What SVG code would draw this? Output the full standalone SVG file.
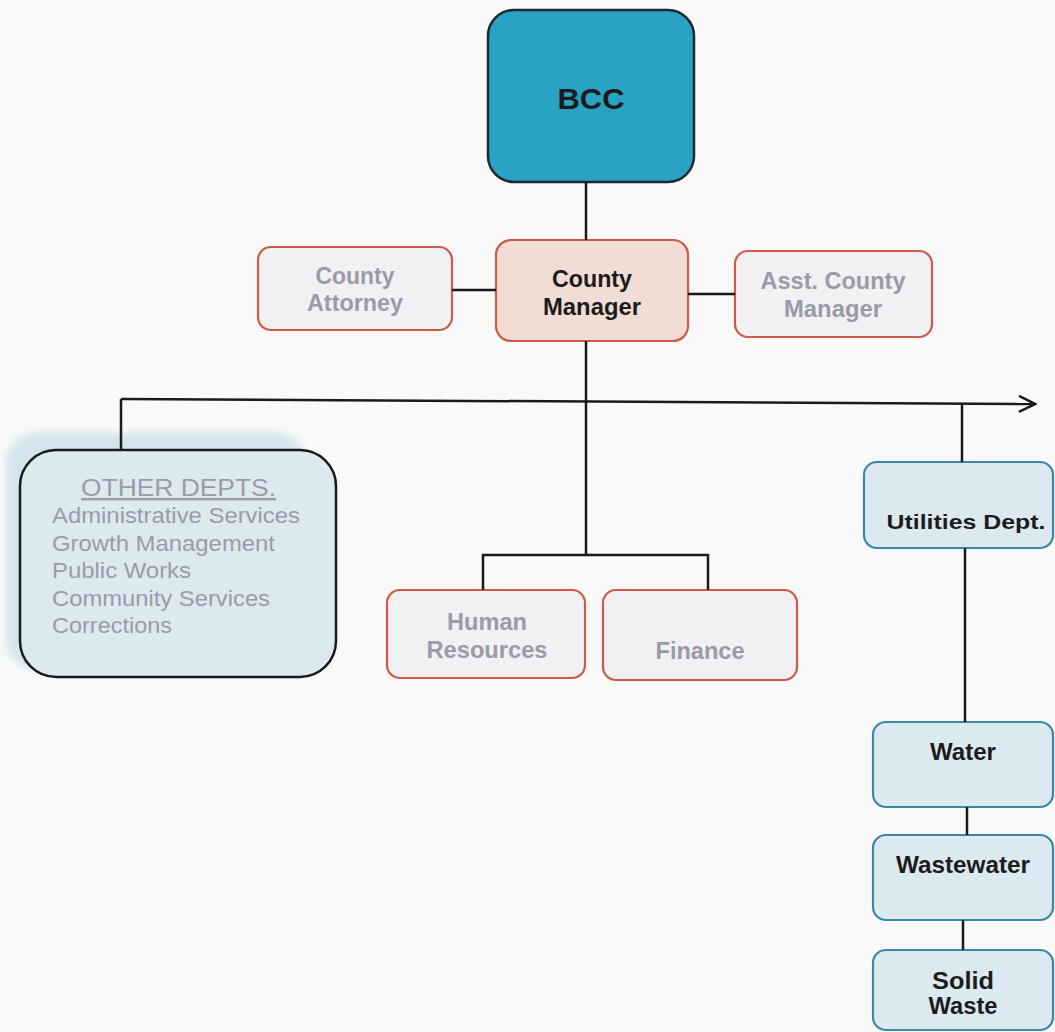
<svg xmlns="http://www.w3.org/2000/svg" width="1055" height="1032" viewBox="0 0 1055 1032">
<style>
.ln{stroke:#1a1a1a;stroke-width:2.5;fill:none}
.red{fill:#f1f0f2;stroke:#d0594a;stroke-width:2.2}
.blue{fill:#dde9f0;stroke:#3a88a8;stroke-width:2.2}
.t{font-family:"Liberation Sans",Arial,sans-serif;font-weight:bold;text-anchor:middle;font-size:23px}
.g{fill:#9a9aaa}
.k{fill:#1c1c1c}
.o{font-family:"Liberation Sans",Arial,sans-serif;font-size:22.5px;fill:#9a9aaa}
</style>
<defs>
<marker id="arr" markerWidth="20" markerHeight="20" refX="18" refY="10" orient="auto" markerUnits="userSpaceOnUse">
<polyline points="2,2 18,10 2,18" fill="none" stroke="#1a1a1a" stroke-width="2.5"/>
</marker>
<filter id="blur" x="-10%" y="-10%" width="120%" height="120%"><feGaussianBlur stdDeviation="4"/></filter>
</defs>
<rect width="1055" height="1032" fill="#f9f9f9"/>
<g id="bcc">
<rect x="488" y="10" width="206" height="172" rx="26" fill="#2aa2c3" stroke="#1c2a30" stroke-width="2.5"/>
<text class="t k" x="591" y="109" style="font-size:30px" textLength="67" lengthAdjust="spacingAndGlyphs">BCC</text>
</g>
<g id="county-manager">
<rect x="496" y="240" width="192" height="101" rx="15" fill="#f2dcd6" stroke="#d0594a" stroke-width="2.2"/>
<text class="t k" x="592" y="287" textLength="80" lengthAdjust="spacingAndGlyphs">County</text>
<text class="t k" x="592" y="315" textLength="98" lengthAdjust="spacingAndGlyphs">Manager</text>
</g>
<g id="county-attorney">
<rect class="red" x="258" y="247" width="194" height="83" rx="13"/>
<text class="t g" x="355" y="284" textLength="79" lengthAdjust="spacingAndGlyphs">County</text>
<text class="t g" x="355" y="311" textLength="96" lengthAdjust="spacingAndGlyphs">Attorney</text>
</g>
<g id="asst-county-manager">
<rect class="red" x="735" y="251" width="197" height="86" rx="13"/>
<text class="t g" x="833" y="289" textLength="145" lengthAdjust="spacingAndGlyphs">Asst. County</text>
<text class="t g" x="833" y="317" textLength="98" lengthAdjust="spacingAndGlyphs">Manager</text>
</g>
<g id="other-depts">
<rect x="6" y="433" width="300" height="236" rx="30" fill="#d3e5ec" filter="url(#blur)"/>
<rect x="20" y="450" width="316" height="227" rx="36" fill="#dceaef" stroke="#1a1a1a" stroke-width="2.5"/>
<text class="o" x="81" y="496" style="font-size:24px" text-decoration="underline" textLength="195" lengthAdjust="spacingAndGlyphs">OTHER DEPTS.</text>
<text class="o" x="52" y="523" textLength="248" lengthAdjust="spacingAndGlyphs">Administrative Services</text>
<text class="o" x="52" y="551" textLength="223" lengthAdjust="spacingAndGlyphs">Growth Management</text>
<text class="o" x="52" y="578" textLength="139" lengthAdjust="spacingAndGlyphs">Public Works</text>
<text class="o" x="52" y="606" textLength="218" lengthAdjust="spacingAndGlyphs">Community Services</text>
<text class="o" x="52" y="633" textLength="120" lengthAdjust="spacingAndGlyphs">Corrections</text>
</g>
<g id="human-resources">
<rect class="red" x="387" y="590" width="198" height="88" rx="13"/>
<text class="t g" x="487" y="630" textLength="80" lengthAdjust="spacingAndGlyphs">Human</text>
<text class="t g" x="487" y="658" textLength="121" lengthAdjust="spacingAndGlyphs">Resources</text>
</g>
<g id="finance">
<rect class="red" x="603" y="590" width="194" height="90" rx="13"/>
<text class="t g" x="700" y="659" textLength="89" lengthAdjust="spacingAndGlyphs">Finance</text>
</g>
<g id="utilities-dept">
<rect class="blue" x="864" y="462" width="189" height="86" rx="13"/>
<text class="t k" x="966" y="529" style="font-size:21px" textLength="159" lengthAdjust="spacingAndGlyphs">Utilities Dept.</text>
</g>
<g id="water">
<rect class="blue" x="873" y="722" width="180" height="85" rx="13"/>
<text class="t k" x="963" y="760" textLength="66" lengthAdjust="spacingAndGlyphs">Water</text>
</g>
<g id="wastewater">
<rect class="blue" x="873" y="835" width="180" height="85" rx="13"/>
<text class="t k" x="963" y="873" textLength="134" lengthAdjust="spacingAndGlyphs">Wastewater</text>
</g>
<g id="solid-waste">
<rect class="blue" x="873" y="950" width="180" height="80" rx="13"/>
<text class="t k" x="963" y="989" textLength="62" lengthAdjust="spacingAndGlyphs">Solid</text>
<text class="t k" x="963" y="1014" textLength="69" lengthAdjust="spacingAndGlyphs">Waste</text>
</g>
<g id="connectors">
<line class="ln" x1="586" y1="182" x2="586" y2="240"/>
<line class="ln" x1="452" y1="290" x2="496" y2="290"/>
<line class="ln" x1="688" y1="294" x2="735" y2="294"/>
<line class="ln" x1="586" y1="341" x2="586" y2="555"/>
<line class="ln" x1="121" y1="399" x2="1035" y2="404" marker-end="url(#arr)"/>
<line class="ln" x1="121" y1="399" x2="121" y2="450"/>
<line class="ln" x1="962" y1="403" x2="962" y2="462"/>
<polyline class="ln" points="483,590 483,555 708,555 708,590"/>
<line class="ln" x1="965" y1="548" x2="965" y2="722"/>
<line class="ln" x1="967" y1="807" x2="967" y2="835"/>
<line class="ln" x1="963" y1="920" x2="963" y2="950"/>
</g>
</svg>
